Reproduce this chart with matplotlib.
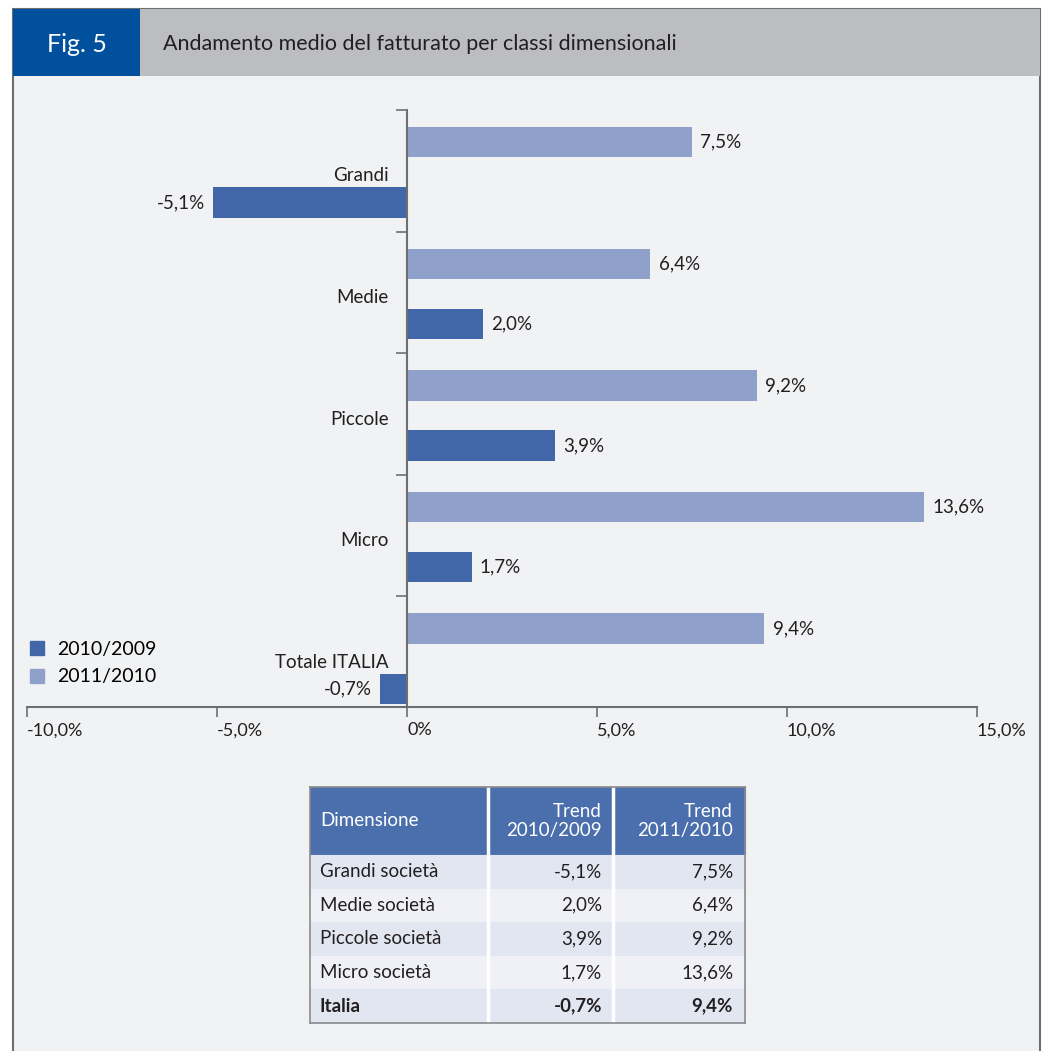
import matplotlib
matplotlib.use("Agg")
import matplotlib.pyplot as plt
from matplotlib.patches import Rectangle
from matplotlib.lines import Line2D

plt.rcParams['font.family'] = ['Lato', 'DejaVu Sans']

# data
categories = ["Grandi", "Medie", "Piccole", "Micro", "Totale ITALIA"]
trend_2010 = [-5.1, 2.0, 3.9, 1.7, -0.7]
trend_2011 = [7.5, 6.4, 9.2, 13.6, 9.4]
series_names = ["2010/2009", "2011/2010"]
xtick_values = [-10, -5, 0, 5, 10, 15]
xtick_labels = ["-10,0%", "-5,0%", "0%", "5,0%", "10,0%", "15,0%"]

table_header = ["Dimensione", "Trend\n2010/2009", "Trend\n2011/2010"]
table_rows = ["Grandi società", "Medie società", "Piccole società", "Micro società", "Italia"]
col_widths = [178, 125, 132]

W, H = 1044, 1051
DARK = "#4267a8"
LIGHT = "#8fa1cb"
TXT = "#231f20"
GRID = "#6d6e71"

fig = plt.figure(figsize=(W / 100, H / 100), dpi=100)
fig.patch.set_facecolor("white")


def fr(x0, y0, x1, y1):
    # pixel box (top-left origin) -> figure fraction [l, b, w, h]
    return [x0 / W, 1 - y1 / H, (x1 - x0) / W, (y1 - y0) / H]


def add_box(x0, y0, x1, y1, z, **kw):
    l, b, w, h = fr(x0, y0, x1, y1)
    fig.patches.append(Rectangle((l, b), w, h, transform=fig.transFigure, zorder=z, **kw))


# panel + header (behind the axes)
add_box(13, 9, 1040, 1060, -3, facecolor="#f1f2f4", edgecolor=GRID, lw=1.5)
add_box(13, 9, 1040, 76, -2, facecolor="#bcbdc1", edgecolor="none")
add_box(13, 9, 140, 76, -1, facecolor="#00509d", edgecolor="none")
fig.text(77 / W, 1 - 44 / H, "Fig. 5", color="white", fontsize=18, ha="center", va="center")
fig.text(163 / W, 1 - 44 / H, "Andamento medio del fatturato per classi dimensionali",
         color=TXT, fontsize=15.5, ha="left", va="center")

# bar chart
ax = fig.add_axes(fr(27, 110, 977, 707))
ax.set_facecolor("none")
pos = list(range(len(categories)))
b1 = ax.barh([p + 0.26 for p in pos], trend_2010, height=0.25, color=DARK, label=series_names[0])
b2 = ax.barh([p - 0.235 for p in pos], trend_2011, height=0.25, color=LIGHT, label=series_names[1])
fmt = lambda v: f"{v:.1f}%".replace(".", ",")
ax.bar_label(b1, labels=[fmt(v) for v in trend_2010], padding=6, fontsize=13.5, color=TXT)
ax.bar_label(b2, labels=[fmt(v) for v in trend_2011], padding=6, fontsize=13.5, color=TXT)

ax.set_xlim(-10, 15)
ax.set_ylim(4.41, -0.5)
for s in ["top", "right"]:
    ax.spines[s].set_visible(False)
ax.spines["left"].set_position(("data", 0))
for s in ["left", "bottom"]:
    ax.spines[s].set_color(GRID)
    ax.spines[s].set_linewidth(1.5)

ax.set_xticks(xtick_values)
ax.set_xticklabels(xtick_labels, fontsize=13, color=TXT)
for lab in ax.get_xticklabels():
    lab.set_ha("left")
ax.tick_params(axis="x", length=7, width=1.2, color=GRID, pad=4)

ax.set_yticks([p + 0.03 for p in pos])
ax.set_yticklabels(categories, fontsize=13.5, color=TXT)
ax.set_yticks([p - 0.5 for p in pos], minor=True)
ax.tick_params(axis="y", which="major", length=0, pad=13)
ax.tick_params(axis="y", which="minor", length=8, width=1.2, color=GRID)

handles = [Line2D([], [], marker="s", ls="", color=DARK, markersize=10),
           Line2D([], [], marker="s", ls="", color=LIGHT, markersize=10)]
ax.legend(handles, series_names, loc="center left", bbox_to_anchor=(27.5 / W, 1 - 663 / H),
          bbox_transform=fig.transFigure, frameon=False, fontsize=14, handlelength=0.95,
          handletextpad=0.6, labelspacing=0.55, borderpad=0, borderaxespad=0)

# table
tax = fig.add_axes(fr(310, 787, 745, 1023))
tax.set_xticks([])
tax.set_yticks([])
tax.set_xlim(0, 1)
tax.set_ylim(0, 1)
for s in tax.spines.values():
    s.set_color("#8a8b8e")
    s.set_linewidth(1.2)
    s.set_zorder(10)

cell_text = [[name, fmt(a), fmt(b)] for name, a, b in zip(table_rows, trend_2010, trend_2011)]
tbl = tax.table(cellText=cell_text, colLabels=table_header, colWidths=col_widths,
                bbox=[0, 0, 1, 1])
tbl.auto_set_font_size(False)
tbl.set_fontsize(13.5)
row_fills = ["#e2e6f1", "#eff1f7"]
pads = [0.056, 0.088, 0.09]
for (r, c), cell in tbl.get_celld().items():
    cell.set_linewidth(0.8)
    cell.PAD = pads[c]
    ha = "left" if c == 0 else "right"
    if r == 0:
        fill = "#4a6fac"
        cell.set_height(cell.get_height() * 2.02)
        cell.set_text_props(color="white", ha=ha, fontsize=13.5, linespacing=1.1)
    else:
        fill = row_fills[(r - 1) % 2]
        cell.set_text_props(color=TXT, ha=ha, fontsize=13.5)
        if r == len(table_rows):
            cell.set_text_props(fontweight="bold")
    cell.set_facecolor(fill)
    cell.set_edgecolor(fill)
    cell._loc = ha

# white column separators
edge = 0
for wcol in col_widths[:-1]:
    edge += wcol / sum(col_widths)
    tax.axvline(edge, color="white", lw=2.5, zorder=9)

fig.savefig("out.png", dpi=100, facecolor=fig.get_facecolor())
